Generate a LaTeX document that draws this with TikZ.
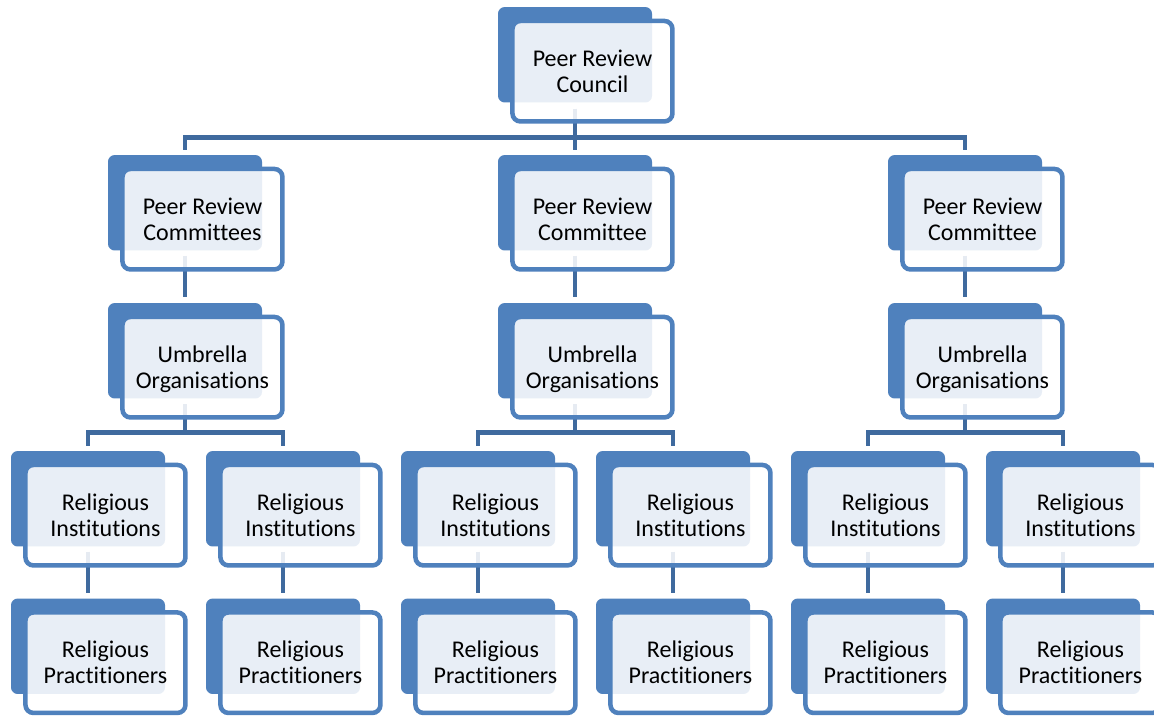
\documentclass[tikz,border=0pt]{standalone}
\usepackage{fontspec}
\setmainfont{Carlito}[Ligatures=NoCommon]
\usetikzlibrary{calc}
\definecolor{ablue}{RGB}{79,129,189}
\definecolor{connblue}{HTML}{3F6A9E}
\tikzset{
  backbox/.style={rectangle, rounded corners=5pt, fill=ablue, draw=none,
    minimum width=115.5pt, minimum height=71.6pt, inner sep=0pt},
  frontbox/.style={rectangle, rounded corners=6pt, draw=ablue, line width=3.4pt,
    fill=white, fill opacity=0.87, text opacity=1,
    minimum width=120pt, minimum height=75.35pt, inner sep=0pt},
  boxtext/.style={align=center, inner sep=0pt, text=black,
    font=\fontsize{18}{19.5}\selectfont},
  conn/.style={draw=connblue, line width=3.6pt, line cap=butt, line join=miter},
}
% #1 name, #2 left, #3 top
\newcommand{\orgback}[3]{\node[backbox] (b#1) at ({#2+77},{#3+47.75}) {};}
\newcommand{\orgfront}[4]{%
  \node[frontbox] (f#1) at ({#2+94.45},{#3+64.2}) {};
  \node[boxtext] (t#1) at ([yshift=-2pt]f#1.center) {#4};}
\begin{document}
\begin{tikzpicture}[x=0.75pt,y=-0.75pt]
\fill[white] (0,0) rectangle (1154,715);
\clip (0,0) rectangle (1154,715);
\useasboundingbox (0,0) rectangle (1154,715);
% back boxes
\orgback{0}{498}{7}
\orgback{c1}{108}{155}
\orgback{c2}{498}{155}
\orgback{c3}{888}{155}
\orgback{u1}{108}{303}
\orgback{u2}{498}{303}
\orgback{u3}{888}{303}
\orgback{i1}{11}{451}
\orgback{i2}{206}{451}
\orgback{i3}{401}{451}
\orgback{i4}{596}{451}
\orgback{i5}{791}{451}
\orgback{i6}{986}{451}
\orgback{p1}{11}{598.5}
\orgback{p2}{206}{598.5}
\orgback{p3}{401}{598.5}
\orgback{p4}{596}{598.5}
\orgback{p5}{791}{598.5}
\orgback{p6}{986}{598.5}
% bar coordinates
\coordinate (bar0) at ($(b0.south)+(0,35)$);
\coordinate (baru1) at ($(bu1.south)+(0,34)$);
\coordinate (baru2) at ($(bu2.south)+(0,34)$);
\coordinate (baru3) at ($(bu3.south)+(0,34)$);
% connectors (behind front boxes)
\foreach \c in {c1,c2,c3}{
  \draw[conn] ([yshift=-4.5pt]b0.south) -- (bar0) -| ([yshift=3.75pt]b\c.north);
}
\foreach \c/\u in {c1/u1,c2/u2,c3/u3}{
  \draw[conn] ([yshift=-3.75pt]b\c.south) -- ([yshift=4.5pt]b\u.north);
}
\foreach \u/\i in {u1/i1,u1/i2,u2/i3,u2/i4,u3/i5,u3/i6}{
  \draw[conn] ([yshift=-4pt]b\u.south) -- (bar\u) -| ([yshift=3.75pt]b\i.north);
}
\foreach \i/\p in {i1/p1,i2/p2,i3/p3,i4/p4,i5/p5,i6/p6}{
  \draw[conn] ([yshift=-3.75pt]b\i.south) -- ([yshift=3.75pt]b\p.north);
}
% front boxes
\orgfront{0}{498}{7}{\strut Peer Review\\\strut Council}
\orgfront{c1}{108}{155}{\strut Peer Review\\\strut Committees}
\orgfront{c2}{498}{155}{\strut Peer Review\\\strut Committee}
\orgfront{c3}{888}{155}{\strut Peer Review\\\strut Committee}
\foreach \u/\L in {u1/108,u2/498,u3/888}{
  \orgfront{\u}{\L}{303}{\strut Umbrella\\\strut Organisations}
}
\foreach \i/\L in {i1/11,i2/206,i3/401,i4/596,i5/791,i6/986}{
  \orgfront{\i}{\L}{451}{\strut Religious\\\strut Institutions}
}
\foreach \p/\L in {p1/11,p2/206,p3/401,p4/596,p5/791,p6/986}{
  \orgfront{\p}{\L}{598.5}{\strut Religious\\\strut Practitioners}
}
% connector parts lying over the front borders
\foreach \c in {c1,c2,c3}{
  \draw[conn] (b0.south |- f0.south) -- (bar0) -| ([yshift=3.75pt]b\c.north);
}
\foreach \c/\u in {c1/u1,c2/u2,c3/u3}{
  \draw[conn] (b\c.south |- f\c.south) -- ([yshift=4.5pt]b\u.north);
}
\foreach \u/\i in {u1/i1,u1/i2,u2/i3,u2/i4,u3/i5,u3/i6}{
  \draw[conn] (b\u.south |- f\u.south) -- (bar\u) -| ([yshift=3.75pt]b\i.north);
}
\foreach \i/\p in {i1/p1,i2/p2,i3/p3,i4/p4,i5/p5,i6/p6}{
  \draw[conn] (b\i.south |- f\i.south) -- ([yshift=3.75pt]b\p.north);
}
\end{tikzpicture}
\end{document}
